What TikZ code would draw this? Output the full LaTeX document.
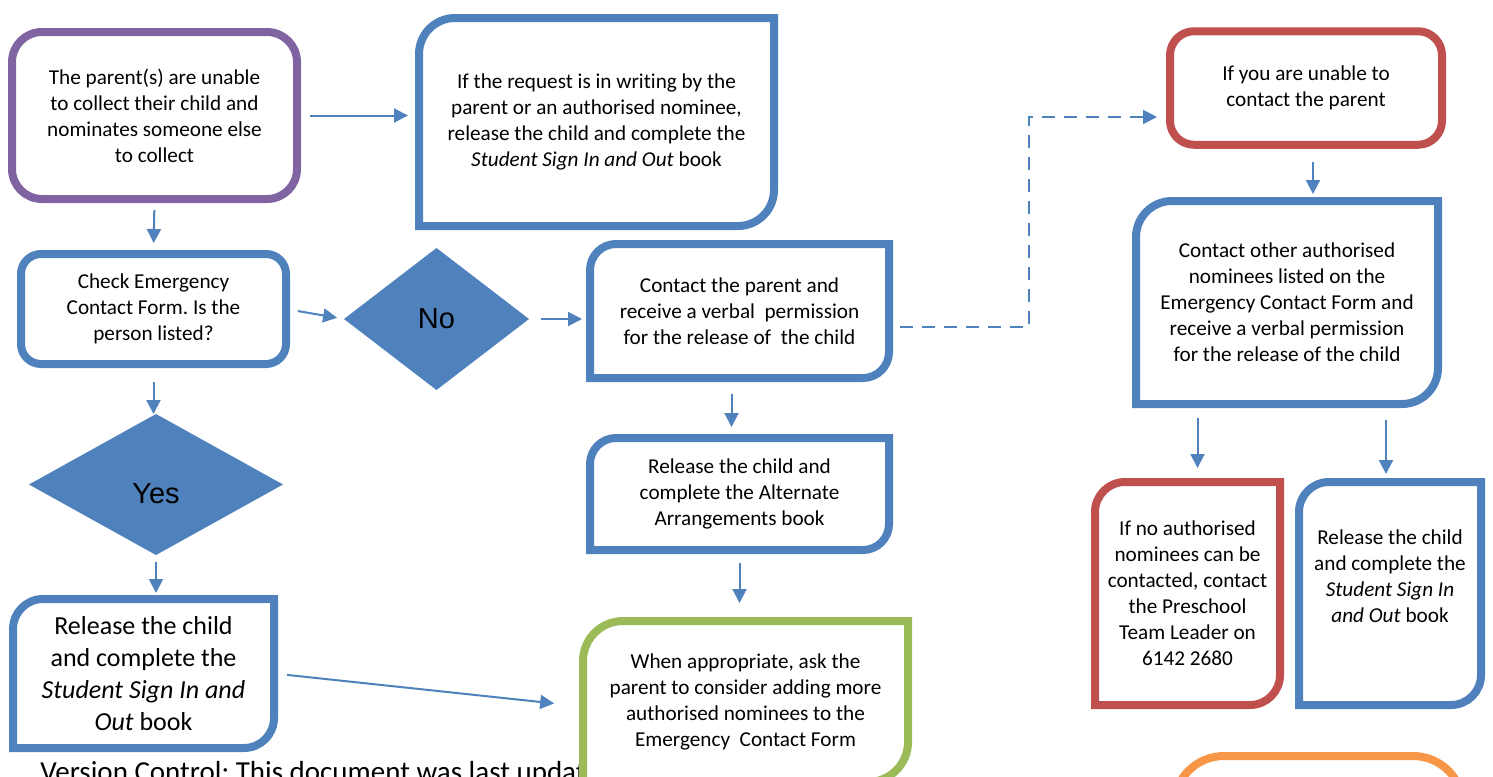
\documentclass[tikz,border=0pt]{standalone}
\usepackage{fontspec}
\setmainfont{Carlito}[Ligatures=NoCommon]
\newfontfamily\arialfont{Liberation Sans}
\frenchspacing
\usetikzlibrary{arrows.meta}
\usetikzlibrary{shapes.geometric}
\definecolor{boxblue}{HTML}{4F81BD}
\definecolor{boxpurple}{HTML}{8064A2}
\definecolor{boxred}{HTML}{C0504D}
\definecolor{boxgreen}{HTML}{9BBB59}
\definecolor{boxorange}{HTML}{F79646}
\tikzset{
	frame/.style={line width=4pt, line join=miter},
	textbox/.style={rectangle, align=center, inner sep=0pt, outer sep=0pt, font=\fontsize{10.6}{13}\selectfont},
	decision/.style={diamond, fill=boxblue, inner sep=0pt, outer sep=0pt, font=\arialfont\fontsize{14.5}{17}\selectfont},
	flow/.style={draw=boxblue, line width=1pt, ->},
	pics/tlbr/.style n args={3}{
		code = {
			\draw[frame, draw=#2] ([yshift=-#3]#1.north west) .. controls ([yshift=-0.448*#3]#1.north west) and ([xshift=0.448*#3]#1.north west) .. ([xshift=#3]#1.north west) -- (#1.north east) -- ([yshift=#3]#1.south east) .. controls ([yshift=0.448*#3]#1.south east) and ([xshift=-0.448*#3]#1.south east) .. ([xshift=-#3]#1.south east) -- (#1.south west) -- cycle;
		}
	}
}

\begin{document}
\begin{tikzpicture}[x=0.5pt, y=-0.5pt, >={Triangle[length=7pt,width=7pt]}]
	\useasboundingbox (0,0) rectangle (1493,776);
	\clip (0,0) rectangle (1493,776);

	% --- left column ---
	\node[textbox, frame, draw=boxpurple, rounded corners=15pt, minimum width=142.5pt, minimum height=83.5pt] (parent) at (154.5,115.5) {The parent(s) are unable\\to collect their child and\\nominates someone else\\to collect};
	\node[textbox, frame, draw=boxblue, rounded corners=10pt, minimum width=132.5pt, minimum height=55pt] (check) at (153.5,309) {Check Emergency\\Contact Form. Is the\\person listed?};
	\node[decision, minimum width=127pt, minimum height=70.5pt, text height=19pt, text depth=0pt] (yes) at (156,484.5) {Yes};
	\node[textbox, font=\fontsize{13}{16}\selectfont, minimum width=130.5pt, minimum height=74.5pt] (release) at (143.5,673.5) {Release the child\\and complete the\\\textit{Student Sign In and}\\\textit{Out} book};
	\pic{tlbr={release}{boxblue}{15pt}};
	\node[anchor=base west, inner sep=0pt, font=\fontsize{14.5}{17}\selectfont] (version) at (40,781) {Version Control: This document was last updated};

	% --- middle column ---
	\node[textbox, minimum width=177.5pt, minimum height=104pt] (request) at (596.5,122) {If the request is in writing by the\\parent or an authorised nominee,\\release the child and complete the\\\textit{Student Sign In and Out} book};
	\pic{tlbr={request}{boxblue}{18pt}};
	\node[decision, minimum width=92.5pt, minimum height=71pt] (no) at (436.5,319) {No};
	\node[textbox, minimum width=149.5pt, minimum height=67pt] (contact) at (739.5,311) {Contact the parent and\\receive a verbal~ permission\\for the release of~ the child};
	\pic{tlbr={contact}{boxblue}{13pt}};
	\node[textbox, minimum width=149.5pt, minimum height=56pt] (alt) at (739.5,494) {Release the child and\\complete the Alternate\\Arrangements book};
	\pic{tlbr={alt}{boxblue}{13pt}};
	\node[textbox, fill=white, minimum width=162.5pt, minimum height=80.5pt] (green) at (745.5,701.5) {When appropriate, ask the\\parent to consider adding more\\authorised nominees to the\\Emergency~ Contact Form};
	\pic{tlbr={green}{boxgreen}{20pt}};

	% --- right column ---
	\node[textbox, frame, draw=boxred, rounded corners=12pt, minimum width=136pt, minimum height=56.75pt] (unable) at (1306,88) {If you are unable to\\contact the parent};
	\node[textbox, minimum width=151pt, minimum height=101.5pt] (other) at (1287,302.5) {Contact other authorised\\nominees listed on the\\Emergency Contact Form and\\receive a verbal permission\\for the release of the child};
	\pic{tlbr={other}{boxblue}{18pt}};
	\node[textbox, minimum width=92.5pt, minimum height=111.5pt] (preschool) at (1187.5,593.5) {If no authorised\\nominees can be\\contacted, contact\\the Preschool\\Team Leader on\\6142 2680};
	\pic{tlbr={preschool}{boxred}{15pt}};
	\node[textbox, minimum width=91pt, minimum height=111.5pt] (signout) at (1390,593.5) {Release the child\\and complete the\\\textit{Student Sign In}\\\textit{and Out} book\\\strut};
	\pic{tlbr={signout}{boxblue}{15pt}};
	\node[frame, draw=boxorange, rounded corners=25pt, minimum width=144.5pt, minimum height=80pt, inner sep=0pt, outer sep=0pt] (orangebox) at (1318.5,836) {};

	% --- connectors ---
	\draw[flow, shorten <=6.5pt, shorten >=5.5pt] (parent.east) -- (parent.east -| request.west);
	\draw[flow, shorten <=5.5pt, shorten >=5.5pt] (parent.south) -- (check.north);
	\draw[flow, shorten <=6pt, shorten >=3.5pt] (check.east) -- (no.west);
	\draw[flow, shorten <=6pt, shorten >=4pt] (no.east) -- (no.east -| contact.west);
	\draw[flow, shorten <=9pt, shorten >=0pt] (check.south) -- (check.south |- yes.north);
	\draw[flow, shorten <=3.5pt, shorten >=3pt] (yes.south) -- (yes.south |- release.north);
	\draw[flow, shorten <=6.5pt, shorten >=14.5pt] (release.east) -- ([yshift=-2.5pt]green.west);
	\draw[flow, shorten <=8pt, shorten >=5.5pt] ([xshift=-4pt]contact.south) -- ([xshift=-4pt]alt.north);
	\draw[flow, shorten <=6.5pt, shorten >=9pt] (alt.south) -- (alt.south |- green.north);

	\coordinate (turn) at (1029,117);
	\draw[flow, dash pattern=on 6.5pt off 4.5pt, shorten <=5.5pt, shorten >=6.5pt] ([yshift=-8pt]contact.east) -| (turn) -- (turn -| unable.west);

	\draw[flow, shorten <=8.5pt, shorten >=3.5pt] ([xshift=3.5pt]unable.south) -- ([xshift=3.5pt]unable.south |- other.north);
	\draw[flow, shorten <=7pt, shorten >=7pt] ([xshift=5pt]preschool.north |- other.south) -- ([xshift=5pt]preschool.north);
	\draw[flow, shorten <=8pt, shorten >=4pt] ([xshift=-2pt]signout.north |- other.south) -- ([xshift=-2pt]signout.north);

\end{tikzpicture}
\end{document}
